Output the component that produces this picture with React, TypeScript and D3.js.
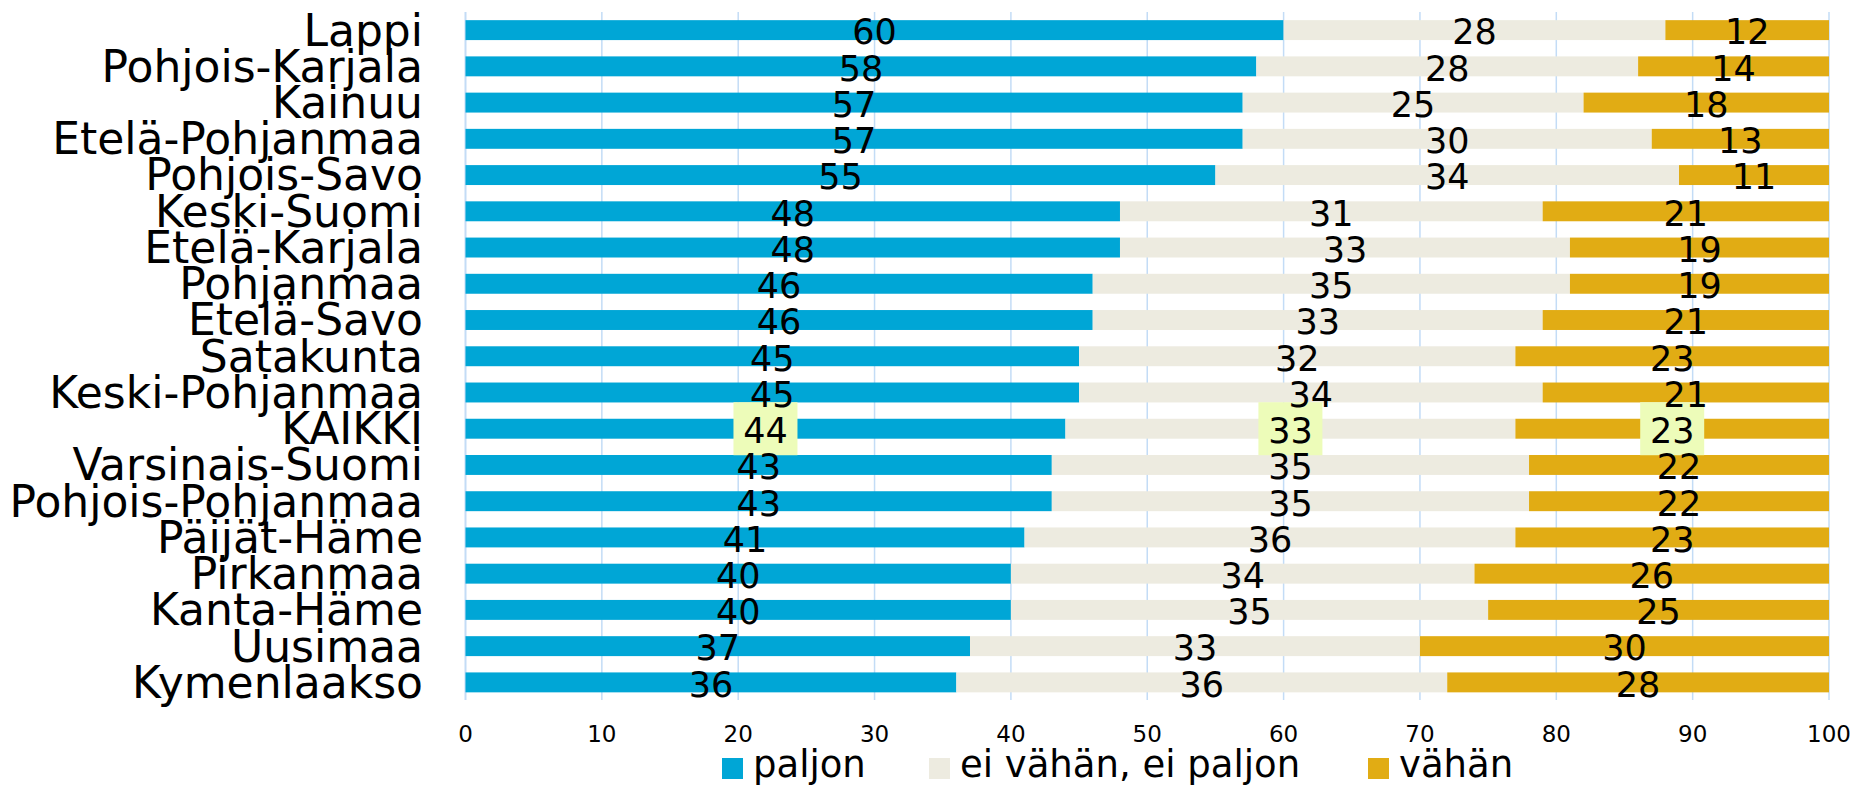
import React from 'react';
import * as d3 from 'd3';

const regions = [
  'Lappi', 'Pohjois-Karjala', 'Kainuu', 'Etelä-Pohjanmaa', 'Pohjois-Savo',
  'Keski-Suomi', 'Etelä-Karjala', 'Pohjanmaa', 'Etelä-Savo', 'Satakunta',
  'Keski-Pohjanmaa', 'KAIKKI', 'Varsinais-Suomi', 'Pohjois-Pohjanmaa',
  'Päijät-Häme', 'Pirkanmaa', 'Kanta-Häme', 'Uusimaa', 'Kymenlaakso',
];
const paljon = [60, 58, 57, 57, 55, 48, 48, 46, 46, 45, 45, 44, 43, 43, 41, 40, 40, 37, 36];
const eiVahanEiPaljon = [28, 28, 25, 30, 34, 31, 33, 35, 33, 32, 34, 33, 35, 35, 36, 34, 35, 33, 36];
const vahan = [12, 14, 18, 13, 11, 21, 19, 19, 21, 23, 21, 23, 22, 22, 23, 26, 25, 30, 28];
const seriesNames = ['paljon', 'ei vähän, ei paljon', 'vähän'];
const xTicks = [0, 10, 20, 30, 40, 50, 60, 70, 80, 90, 100];
const highlighted = 'KAIKKI';

const colors = ['#00A6D6', '#EDEBE0', '#E1AC14'];
const FONT = '"DejaVu Sans", Verdana, sans-serif';

const W = 1854;
const H = 787;

const App = () => {
  const x = d3.scaleLinear().domain([0, 100]).range([465.5, 1829]);
  const y = d3.scaleBand<string>()
    .domain(regions)
    .range([12, 700.5])
    .paddingInner(0.45)
    .paddingOuter(0.225);

  const rows = regions.map((r, i) => ({
    region: r,
    paljon: paljon[i],
    eivahan: eiVahanEiPaljon[i],
    vahan: vahan[i],
  }));
  const stack = d3.stack<any>().keys(['paljon', 'eivahan', 'vahan'])(rows);

  const bw = y.bandwidth();
  const gridTop = 12;
  const gridBottom = 700;

  // legend layout (square left edges)
  const legendX = [722, 929, 1368];

  return (
    <svg width={W} height={H} style={{ position: 'absolute', left: 0, top: 0, background: '#fff' }}
      fontFamily={FONT}>
      {/* gridlines */}
      {xTicks.map(t => (
        <line key={t} x1={x(t)} x2={x(t)} y1={gridTop} y2={gridBottom}
          stroke="#C3DCF6" strokeWidth={t === 0 ? 2 : 1.5} />
      ))}

      {/* bars */}
      {stack.map((s, si) => (
        <g key={si} fill={colors[si]}>
          {s.map((d, i) => (
            <rect key={i} x={x(d[0])} width={x(d[1]) - x(d[0])}
              y={y(regions[i])!} height={bw} />
          ))}
        </g>
      ))}

      {/* highlight boxes */}
      {stack.map((s, si) => s.map((d, i) => regions[i] === highlighted ? (
        <rect key={`h${si}-${i}`} x={x((d[0] + d[1]) / 2) - 32}
          y={y(regions[i])! + bw / 2 - 26.5} width={64} height={53} fill="#EDFCB9" />
      ) : null))}

      {/* value labels */}
      {stack.map((s, si) => (
        <g key={`l${si}`} fontSize={35} fill="#000" textAnchor="middle">
          {s.map((d, i) => (
            <text key={i} x={x((d[0] + d[1]) / 2)} y={y(regions[i])! + bw / 2} dy="0.41em">
              {d[1] - d[0]}
            </text>
          ))}
        </g>
      ))}

      {/* category labels */}
      <g fontSize={44} textAnchor="end" fill="#000">
        {regions.map(r => (
          <text key={r} x={423} y={y(r)! + bw / 2} dy="0.35em">{r}</text>
        ))}
      </g>

      {/* x tick labels */}
      <g fontSize={23} textAnchor="middle" fill="#000">
        {xTicks.map(t => (
          <text key={t} x={x(t)} y={741.5}>{t}</text>
        ))}
      </g>

      {/* legend */}
      {seriesNames.map((n, i) => (
        <g key={n}>
          <rect x={legendX[i]} y={758} width={21} height={21} fill={colors[i]} />
          <text x={legendX[i] + 31} y={777} fontSize={37} fill="#000">{n}</text>
        </g>
      ))}
    </svg>
  );
};

export default App;
